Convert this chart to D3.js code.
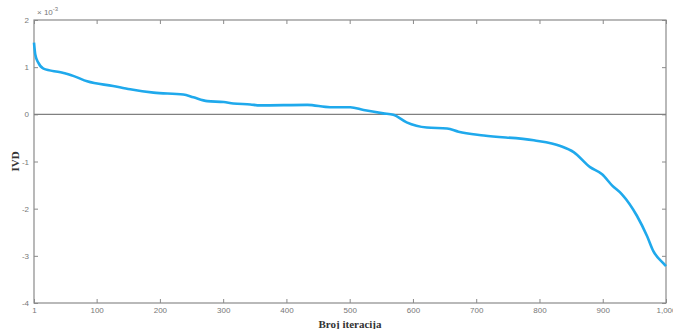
<!DOCTYPE html>
<html>
<head>
<meta charset="utf-8">
<script src="https://cdn.jsdelivr.net/npm/d3@7"></script>
<style>
  body { margin: 0; background: #fff; }
  svg { display: block; }
</style>
</head>
<body>
<div id="chart"></div>
<script>
// iteration index
const iterations = [1, 3, 8, 16, 43, 64, 85, 126, 153, 190, 237, 253, 275, 301, 316, 343,
  358, 433, 469, 501, 522, 553, 569, 590, 622, 654, 672, 712, 791, 833, 854, 880,
  899, 915, 930, 954, 970, 980, 996, 1000];
// IVD values, in units of 1e-3
const ivd = [1.52, 1.27, 1.09, 0.97, 0.89, 0.81, 0.70, 0.60, 0.53, 0.46, 0.42, 0.36, 0.28, 0.26, 0.23, 0.21,
  0.19, 0.20, 0.15, 0.15, 0.09, 0.02, -0.01, -0.17, -0.28, -0.30, -0.37, -0.45, -0.55, -0.67, -0.80, -1.12,
  -1.27, -1.51, -1.69, -2.15, -2.58, -2.90, -3.16, -3.22];

const xTicks = [1, 100, 200, 300, 400, 500, 600, 700, 800, 900, 1000];
const xTickLabels = ['1', '100', '200', '300', '400', '500', '600', '700', '800', '900', '1,000'];
const yTicks = [-4, -3, -2, -1, 0, 1, 2];

const width = 673, height = 329;
const margin = {top: 20, right: 7, bottom: 26, left: 34};
const innerW = width - margin.left - margin.right;
const innerH = height - margin.top - margin.bottom;

const svg = d3.select('#chart').append('svg')
  .attr('width', width)
  .attr('height', height);

const g = svg.append('g')
  .attr('transform', 'translate(' + margin.left + ',' + margin.top + ')');

const xScale = d3.scaleLinear().domain([1, 1000]).range([0, innerW]);
const yScale = d3.scaleLinear().domain([-4, 2]).range([innerH, 0]);

const axisColor = '#8a8a8a';
const labelColor = '#777';

function styleAxis(sel, hideText) {
  sel.select('.domain').remove();
  sel.selectAll('.tick line').attr('stroke', axisColor);
  sel.selectAll('.tick text')
    .attr('fill', labelColor)
    .style('font-family', 'Liberation Sans, Arial, sans-serif')
    .style('font-size', '8px');
  if (hideText) sel.selectAll('.tick text').remove();
}

// bottom axis
g.append('g')
  .attr('transform', 'translate(0,' + innerH + ')')
  .call(d3.axisBottom(xScale).tickValues(xTicks)
    .tickSize(-4).tickPadding(4)
    .tickFormat((d, i) => xTickLabels[i]))
  .call(s => styleAxis(s, false));

// top axis (ticks only)
g.append('g')
  .call(d3.axisTop(xScale).tickValues(xTicks).tickSize(-4))
  .call(s => styleAxis(s, true));

// left axis
g.append('g')
  .call(d3.axisLeft(yScale).tickValues(yTicks).tickSize(-4).tickPadding(5)
    .tickFormat(d => String(d)))
  .call(s => styleAxis(s, false));

// right axis (ticks only)
g.append('g')
  .attr('transform', 'translate(' + innerW + ',0)')
  .call(d3.axisRight(yScale).tickValues(yTicks).tickSize(-4))
  .call(s => styleAxis(s, true));

// frame
g.append('rect')
  .attr('width', innerW)
  .attr('height', innerH)
  .attr('fill', 'none')
  .attr('stroke', axisColor)
  .attr('stroke-width', 1.2);

// zero line
g.append('line')
  .attr('x1', 0).attr('x2', innerW)
  .attr('y1', yScale(0)).attr('y2', yScale(0))
  .attr('stroke', '#808080')
  .attr('stroke-width', 1.2);

// curve
const points = iterations.map((d, i) => ({x: d, y: ivd[i]}));
g.append('path')
  .datum(points)
  .attr('fill', 'none')
  .attr('stroke', '#1fa9ec')
  .attr('stroke-width', 2.6)
  .attr('stroke-linejoin', 'round')
  .attr('d', d3.line()
    .x(d => xScale(d.x))
    .y(d => yScale(d.y))
    .curve(d3.curveMonotoneX));

// exponent label
const expo = svg.append('text')
  .attr('x', margin.left + 3)
  .attr('y', margin.top - 5)
  .attr('fill', labelColor)
  .style('font-family', 'Liberation Sans, Arial, sans-serif')
  .style('font-size', '8px');
expo.append('tspan').text('\u00d7 10');
expo.append('tspan').attr('dy', -4).style('font-size', '6px').text('-3');

// axis titles
svg.append('text')
  .attr('x', margin.left + innerW / 2)
  .attr('y', height - 1)
  .attr('text-anchor', 'middle')
  .style('font-family', 'Liberation Serif, Times New Roman, serif')
  .style('font-weight', 'bold')
  .style('font-size', '11px')
  .attr('fill', '#333')
  .text('Broj iteracija');

svg.append('text')
  .attr('transform', 'translate(19,' + (margin.top + innerH / 2) + ') rotate(-90)')
  .attr('text-anchor', 'middle')
  .style('font-family', 'Liberation Serif, Times New Roman, serif')
  .style('font-weight', 'bold')
  .style('font-size', '11px')
  .attr('fill', '#333')
  .text('IVD');
</script>
</body>
</html>
